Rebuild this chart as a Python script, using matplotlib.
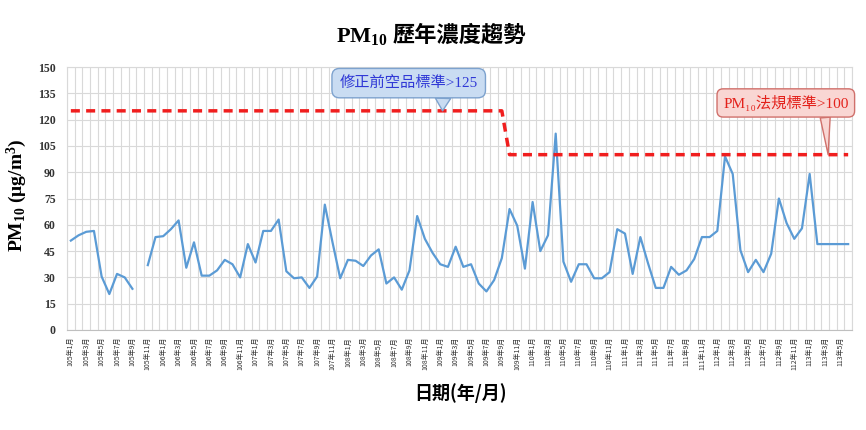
# PM10 yearly concentration trend chart
import numpy as np
import matplotlib.pyplot as plt

plt.rcParams['mathtext.default'] = 'regular'

# data (105/1 .. 113/6, monthly)
start_year = 105
pm10 = [51, 54, 56, 56.5, 30.5, 20.5, 32, 30, 23.5, np.nan,
        37, 53, 53.5, 57.5, 62.5, 35.5, 50, 31, 31, 34,
        40, 37.5, 30, 49, 38.5, 56.5, 56.5, 63, 33.5, 29.5,
        30, 24, 30.5, 71.5, 50, 29.5, 40, 39.5, 36.5, 42.5,
        46, 26.5, 30, 23, 34, 65, 52, 44, 37.5, 36,
        47.5, 36, 37.5, 26.5, 22, 28.5, 41, 69, 59.5, 35,
        73, 45, 54, 112, 39, 27.5, 37.5, 37.5, 29.5, 29.5,
        33, 57.5, 55, 32, 53, 38, 24, 24, 36, 31.5,
        34, 40.5, 53, 53, 56.5, 99, 89, 45.5, 33, 40,
        33, 43.5, 75, 61, 52, 58, 89, 49, 49, 49,
        49, 49]
standard = [125] * 57 + [100] * 45
months = [f'{start_year + i // 12}年{i % 12 + 1}月' for i in range(len(pm10))]
y_ticks = list(range(0, 151, 15))

# colors
blue = '#5B9BD5'
red = '#F01E1E'
grid = '#D9D9D9'

cjk = 'Noto Sans CJK TC'
serif = 'Liberation Serif'

fig = plt.figure(figsize=(8.66, 4.30), dpi=100)
ax = fig.add_axes([67 / 866, 1 - 330 / 430, 785 / 866, 263 / 430])

x = np.arange(len(pm10))
ax.plot(x, pm10, color=blue, lw=1.6, zorder=3)
ax.plot(x, standard, color=red, lw=2.5, dashes=(2.6, 1.8), zorder=4)

# axes, grid and ticks
ax.set_xlim(-0.5, len(pm10) - 0.5)
ax.set_ylim(0, 150)
ax.set_yticks(y_ticks)
ax.set_yticklabels([str(v) for v in y_ticks], family=serif, fontweight='bold',
                   fontsize=8.5, color='#333333')
ax.set_xticks(x[::2])
ax.set_xticklabels(months[::2], rotation=90, family=cjk, fontsize=5, color='#333333')
ax.set_xticks(np.arange(-0.5, len(pm10), 1), minor=True)
ax.grid(which='minor', axis='x', color=grid, lw=0.8)
ax.grid(which='major', axis='y', color=grid, lw=0.8)
ax.set_axisbelow(True)
ax.tick_params(axis='both', which='both', length=0)
ax.tick_params(axis='y', pad=8)
ax.tick_params(axis='x', pad=5)
for side in ['top', 'right', 'left']:
    ax.spines[side].set_color(grid)
ax.spines['bottom'].set_color('#BFBFBF')

# callouts
ax.annotate('修正前空品標準>125', xy=(48.3, 125), xytext=(43.9, 140.8),
            ha='center', va='center', fontsize=11, color='#3039D6',
            family=[serif, cjk], zorder=6,
            bbox=dict(boxstyle='round,pad=0.5', fc='#C9DCF2', ec='#7DA2CE', lw=1),
            arrowprops=dict(arrowstyle='wedge,tail_width=1.0,shrink_factor=0.5',
                            fc='#C9DCF2', ec='#7DA2CE', lw=1, relpos=(0.75, 0),
                            shrinkA=0, shrinkB=0))
ax.annotate('PM₁₀法規標準>100', xy=(98.4, 100), xytext=(92.9, 129.5),
            ha='center', va='center', fontsize=11, color='#E3211B',
            family=[serif, cjk, 'DejaVu Serif'], zorder=6,
            bbox=dict(boxstyle='round,pad=0.4', fc='#F9D6D3', ec='#D0706B', lw=1),
            arrowprops=dict(arrowstyle='wedge,tail_width=0.65,shrink_factor=0.5',
                            fc='#F9D6D3', ec='#D0706B', lw=1, relpos=(0.81, 0),
                            shrinkA=0, shrinkB=0))

# labels and title
ax.set_ylabel('PM$_{10}$ (μg/m$^{3}$)', family=serif, fontweight='bold', fontsize=14,
              va='center')
ax.yaxis.set_label_coords(-0.064, 0.511)
fig.text(460 / 866, 1 - 393 / 430, '日期(年/月)', ha='center', va='center',
         family=cjk, fontweight='bold', fontsize=13)
fig.text(388 / 866, 1 - 42 / 430, 'PM$_{10}$', ha='right', va='baseline',
         family=serif, fontweight='bold', fontsize=16)
fig.text(393 / 866, 1 - 42 / 430, '歷年濃度趨勢', ha='left', va='baseline',
         family=cjk, fontweight='bold', fontsize=16)

fig.savefig('out.png', dpi=100)
